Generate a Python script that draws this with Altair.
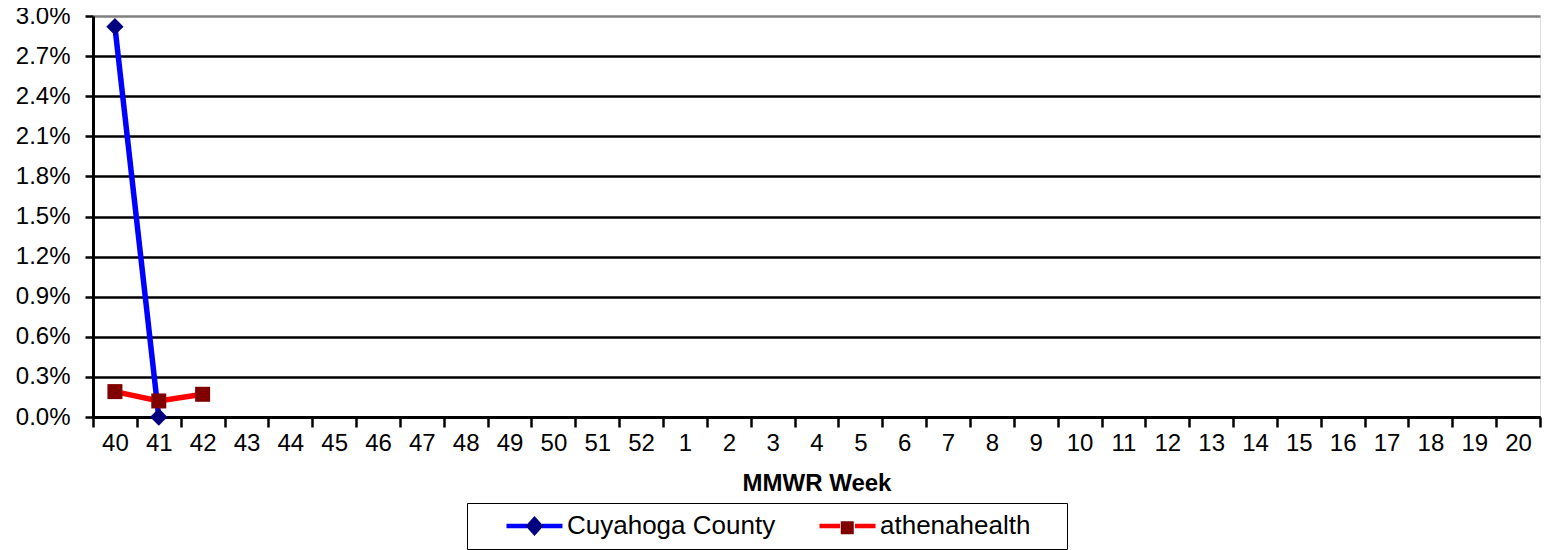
import altair as alt
import pandas as pd

weeks = ["40", "41", "42", "43", "44", "45", "46", "47", "48", "49", "50", "51", "52",
         "1", "2", "3", "4", "5", "6", "7", "8", "9", "10", "11", "12", "13", "14",
         "15", "16", "17", "18", "19", "20"]

series_names = ["Cuyahoga County", "athenahealth"]

cuyahoga_weeks = ["40", "41"]
cuyahoga_pct = [2.92, 0.0]

athena_weeks = ["40", "41", "42"]
athena_pct = [0.19, 0.12, 0.17]

y_ticks = [0.0, 0.003, 0.006, 0.009, 0.012, 0.015, 0.018, 0.021, 0.024, 0.027, 0.03]

line_colors = ["#0000FF", "#FF0000"]
marker_colors = ["#000080", "#800000"]

FONT = "Liberation Sans"
ZW = "\u200b"  # zero-width prefix so the marker legend keeps its own domain

rows = []
for w, v in zip(cuyahoga_weeks, cuyahoga_pct):
    rows.append({"week": w, "pct": v / 100.0, "series": series_names[0]})
for w, v in zip(athena_weeks, athena_pct):
    rows.append({"week": w, "pct": v / 100.0, "series": series_names[1]})
df = pd.DataFrame(rows)

x_enc = alt.X(
    "week:N",
    sort=weeks,
    scale=alt.Scale(domain=weeks, type="band", paddingInner=0, paddingOuter=0),
    axis=alt.Axis(
        title="MMWR Week",
        titleFont=FONT, titleFontSize=24, titleFontWeight="bold", titleColor="black",
        titlePadding=16,
        labelFont=FONT, labelFontSize=24, labelColor="black", labelAngle=0,
        labelPadding=4,
        tickBand="extent", tickSize=10, tickWidth=2.5, tickColor="black",
        domainColor="black", domainWidth=3, grid=False,
    ),
)

y_enc = alt.Y(
    "pct:Q",
    scale=alt.Scale(domain=[0, 0.03], nice=False, zero=True),
    axis=alt.Axis(
        title=None, format=".1%", values=y_ticks,
        labelFont=FONT, labelFontSize=24, labelColor="black", labelPadding=15,
        tickSize=8, tickWidth=2.5, tickColor="black",
        domainColor="black", domainWidth=3,
        grid=True, gridWidth=2.5,
        gridColor={"condition": {"test": "datum.value >= 0.0299", "value": "#808080"}, "value": "black"},
    ),
)

legend_common = dict(
    orient="none", legendX=374, legendY=487,
    direction="horizontal", columns=2,
    title=" ", titleOrient="left", titleFontSize=1, titlePadding=29,
    padding=10,
    symbolSize=400, symbolStrokeWidth=4.5, symbolOffset=15.5,
    labelOffset=19.5, labelFont=FONT, labelFontSize=26, labelLimit=500,
)

line_legend = alt.Legend(
    symbolType="M-2.8,0L-0.75,0M0.75,0L2.8,0",
    strokeColor="black",
    labelColor="black",
    columnPadding=34,
    labelExpr="datum.label == 'athenahealth' ? datum.label + '\u2002\u2002\u200b' : datum.label",
    **legend_common,
)

# marker-only legend laid over the line legend (no label text of its own)
marker_legend = alt.Legend(
    labelColor="black",
    labelExpr="''",
    columnPadding=237.75,
    symbolStrokeColor="transparent",
    **legend_common,
)

base = alt.Chart(df)

lines = base.mark_line(strokeWidth=5.5).encode(
    x=x_enc, y=y_enc,
    color=alt.Color("series:N", scale=alt.Scale(domain=series_names, range=line_colors),
                    legend=line_legend),
)

pts_cuy = base.transform_filter(alt.datum.series == series_names[0]).mark_point(
    filled=True, opacity=1, shape="diamond", size=300, color=marker_colors[0]
).encode(x=x_enc, y=y_enc)

pts_ath = base.transform_filter(alt.datum.series == series_names[1]).mark_point(
    filled=True, opacity=1, shape="square", size=225, color=marker_colors[1]
).encode(x=x_enc, y=y_enc)

marker_domain = [ZW + n for n in series_names]
# the zero-area "M-2.8,0L2.8,0" part gives the marker symbols the same extent as the line symbols
marker_shapes = [
    "M-2.8,0L2.8,0ZM0,-1L0.9,0L0,1L-0.9,0Z",
    "M-2.8,0L2.8,0ZM-0.65,-0.65L0.65,-0.65L0.65,0.65L-0.65,0.65Z",
]

legend_markers = base.transform_filter("false").transform_calculate(
    series2="'" + ZW + "' + datum.series"
).mark_point(
    filled=True, opacity=1, strokeWidth=0
).encode(
    x=x_enc, y=y_enc,
    fill=alt.Fill("series2:N", scale=alt.Scale(domain=marker_domain, range=marker_colors),
                  legend=marker_legend),
    shape=alt.Shape("series2:N", scale=alt.Scale(domain=marker_domain, range=marker_shapes),
                    legend=marker_legend),
)

chart = alt.layer(lines, pts_cuy, pts_ath, legend_markers).properties(
    width=1447, height=401,
    autosize=alt.AutoSizeParams(type="none"),
    padding={"left": 85, "top": 8, "right": 3, "bottom": 135},
).configure_view(
    stroke="#808080", strokeWidth=3
).configure_legend(
    strokeWidth=2.5
).configure(background="white")

chart.save("out.html", embed_options={"renderer": "svg", "actions": False})
